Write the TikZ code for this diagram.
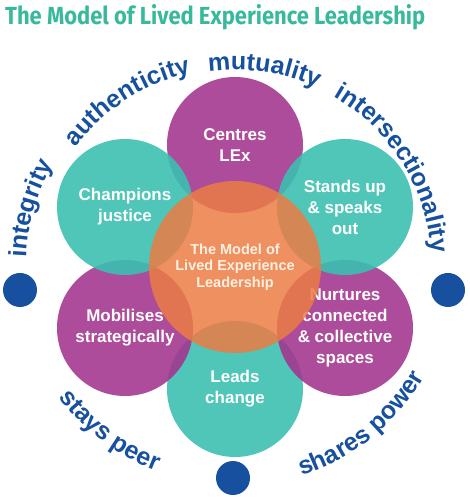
\documentclass[tikz,border=0pt]{standalone}
\usepackage{fontspec}
\setmainfont{Liberation Sans}
\newfontfamily\titlefont{Fira Sans}
\usetikzlibrary{decorations.text}
\definecolor{tealc}{HTML}{3CC0B0}
\definecolor{purpc}{HTML}{A3388F}
\definecolor{orngc}{HTML}{EB7C44}
\definecolor{navyc}{HTML}{16509E}
\definecolor{titlec}{HTML}{38B99B}
\definecolor{creamc}{HTML}{FFF0E2}
\newcommand{\arcfont}{\bfseries\fontsize{25}{25}\selectfont}
\begin{document}
\begin{tikzpicture}[x=1pt,y=1pt,
  petal/.style={circle, minimum size=136pt, inner sep=0pt, fill opacity=0.9, text opacity=1,
    text=white, align=center, font=\bfseries\fontsize{17}{21}\selectfont},
  tealpetal/.style={petal, fill=tealc},
  purppetal/.style={petal, fill=purpc},
  hub/.style={circle, minimum size=172pt, inner sep=0pt, fill=orngc, fill opacity=0.85,
    text opacity=1, text=creamc, align=center, font=\bfseries\fontsize{14.5}{16.5}\selectfont},
  bluedot/.style={circle, fill=navyc, minimum size=34pt, inner sep=0pt},
  arcword/.style={decorate, decoration={text along path, text align=center, text color=navyc}}
]
\useasboundingbox (0,0) rectangle (469,500);
\coordinate (O) at (235,233);

% title
\node[anchor=base west, inner sep=0pt, text=titlec] (title) at (5,475)
  {\resizebox{420pt}{\height}{\titlefont\bfseries\fontsize{24.7}{26}\selectfont The Model of Lived Experience Leadership}};

% petals
\node[purppetal] (centres) at (235,355) {Centres\\LEx};
\node[tealpetal] (leads) at (235,111) {Leads\\change};
\node[purppetal] (mobil) at (125,172) {Mobilises\\strategically};
\node[purppetal] (nurt) at (345,172) {Nurtures\\connected\\\& collective\\spaces};
\node[tealpetal] (champ) at (125,293) {Champions\\justice};
\node[tealpetal] (stands) at (345,293) {Stands up\\\& speaks\\out};

% hub
\node[hub] (hubn) at (O) {The Model of\\Lived Experience\\Leadership};

% dots
\node[bluedot] (dotl) at (20,210) {};
\node[bluedot] (dotr) at (448,210) {};
\node[bluedot] (dotb) at (233,22) {};

% arc words (top: clockwise, bottom: counter-clockwise)
\path[arcword, decoration={text={|\arcfont|integrity}}]
  ([shift={(204:209)}]O) arc[start angle=204, end angle=124, radius=209];
\path[arcword, decoration={text={|\arcfont|authenticity}}]
  ([shift={(163:199)}]O) arc[start angle=163, end angle=83, radius=199];
\path[arcword, decoration={text={|\arcfont|mutuality}}]
  ([shift={(121.5:197)}]O) arc[start angle=121.5, end angle=41.5, radius=197];
\path[arcword, decoration={text={|\arcfont|intersectionality}}]
  ([shift={(77:197)}]O) arc[start angle=77, end angle=-13, radius=197];
\path[arcword, decoration={text={|\arcfont|stays peer}}]
  ([shift={(192.7:219)}]O) arc[start angle=192.7, end angle=272.7, radius=219];
\path[arcword, decoration={text={|\arcfont|shares power}}]
  ([shift={(268.8:219)}]O) arc[start angle=268.8, end angle=348.8, radius=219];
\end{tikzpicture}
\end{document}
